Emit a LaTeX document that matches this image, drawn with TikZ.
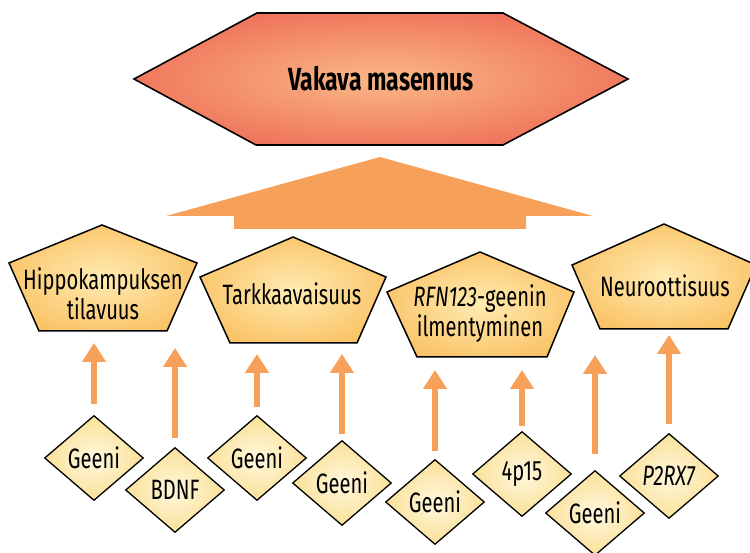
\documentclass[tikz,border=0pt]{standalone}
\usepackage{fontspec}
\setmainfont{Fira Sans}[FakeStretch=0.72]
\usetikzlibrary{shapes.geometric,arrows.meta}

\definecolor{kuusiulko}{HTML}{E8493F}
\definecolor{kuusisisa}{HTML}{FAB887}
\definecolor{viisiulko}{HTML}{F8B246}
\definecolor{viisisisa}{HTML}{FFEBB2}
\definecolor{neliulko}{HTML}{F8D575}
\definecolor{nelisisa}{HTML}{FFF8DE}
\definecolor{nuolivari}{HTML}{F7A05A}

\pgfdeclareradialshading{kuusivarjo}{\pgfpoint{0bp}{0bp}}{color(0bp)=(kuusisisa); color(44bp)=(kuusiulko); color(50bp)=(kuusiulko)}
\pgfdeclareradialshading{viisivarjo}{\pgfpoint{0bp}{0bp}}{color(0bp)=(viisisisa); color(40bp)=(viisiulko); color(50bp)=(viisiulko)}
\pgfdeclareradialshading{nelivarjo}{\pgfpoint{0bp}{0bp}}{color(0bp)=(nelisisa); color(38bp)=(neliulko); color(50bp)=(neliulko)}

\tikzset{
    kuusi/.style={draw=black, line width=1.6pt, shading=kuusivarjo},
    viisi/.style={draw=black, line width=1.5pt, shading=viisivarjo},
    geeni/.style={diamond, draw=black, line width=1.3pt, shading=nelivarjo,
        minimum width=99pt, minimum height=85pt, inner sep=0pt,
        font=\fontsize{28}{30}\selectfont},
    teksti/.style={align=center, font=\fontsize{28}{30}\selectfont},
    nuoli/.style={draw=nuolivari, line width=6pt, -{Triangle[width=23pt,length=19pt]}}
}

\begin{document}
\begin{tikzpicture}[x=1pt,y=-1pt]
                    \useasboundingbox (0,0) rectangle (750,553);
                    % paataso
                    \draw [kuusi] (134,79) -- (257,13) -- (503,13) -- (628,79) -- (503,145) -- (256,145) -- cycle;
                    \node [font=\fontsize{32}{36}\selectfont\bfseries] (masennus) at (381,79) {Vakava masennus};
                    \fill [nuolivari] (380,157) -- (593,216) -- (526,216) -- (526,229) -- (234,229) -- (234,216) -- (166,216) -- cycle;
                    % valitasot
                    \draw [viisi] (102,225) -- (197,263) -- (167,331) -- (39,331) -- (9,263) -- cycle;
                    \node [teksti] (hippo) at (103,294) {Hippokampuksen\\tilavuus};
                    \coordinate (hippo-b) at (103,331);
                    \draw [viisi] (293,237) -- (386,277) -- (357,343) -- (230,343) -- (200,277) -- cycle;
                    \node [teksti] (tarkka) at (292,294) {Tarkkaavaisuus};
                    \coordinate (tarkka-b) at (293,343);
                    \draw [viisi] (480,252) -- (574,292) -- (547,357) -- (417,357) -- (387,292) -- cycle;
                    \node [teksti] (rfn) at (480,314) {\textit{RFN123}-geenin\\ilmentyminen};
                    \coordinate (rfn-b) at (481,357);
                    \draw [viisi] (664,224) -- (756,265) -- (728,329) -- (600,329) -- (572,265) -- cycle;
                    \node [teksti] (neuro) at (665,286) {Neuroottisuus};
                    \coordinate (neuro-b) at (664,329);
                    % geenit
                    \node [geeni] (d1) at (94,458) {Geeni};
                    \node [geeni] (d2) at (175,490) {BDNF};
                    \node [geeni] (d3) at (257,458) {Geeni};
                    \node [geeni] (d4) at (342,483) {Geeni};
                    \node [geeni] (d5) at (435,502) {Geeni};
                    \node [geeni] (d6) at (522,474) {4p15};
                    \node [geeni] (d7) at (595,513) {Geeni};
                    \node [geeni] (d8) at (669,476) {\textit{P2RX7}};
                    % nuolet
                    \draw [nuoli, shorten <=11pt, shorten >=12pt] (d1.north) -- (d1.north |- hippo-b);
                    \draw [nuoli, shorten <=9pt, shorten >=17pt] (d2.north) -- (d2.north |- hippo-b);
                    \draw [nuoli, shorten <=8pt, shorten >=11pt] (d3.north) -- (d3.north |- tarkka-b);
                    \draw [nuoli, shorten <=6pt, shorten >=11pt] (d4.north) -- (d4.north |- tarkka-b);
                    \draw [nuoli, shorten <=8pt, shorten >=13pt] (d5.north) -- (d5.north |- rfn-b);
                    \draw [nuoli, shorten <=5pt, shorten >=13pt] (d6.north) -- (d6.north |- rfn-b);
                    \draw [nuoli, shorten <=16pt, shorten >=26pt] (d7.north) -- (d7.north |- neuro-b);
                    \draw [nuoli, shorten <=9pt, shorten >=6pt] (d8.north) -- (d8.north |- neuro-b);
                \end{tikzpicture}
\end{document}
